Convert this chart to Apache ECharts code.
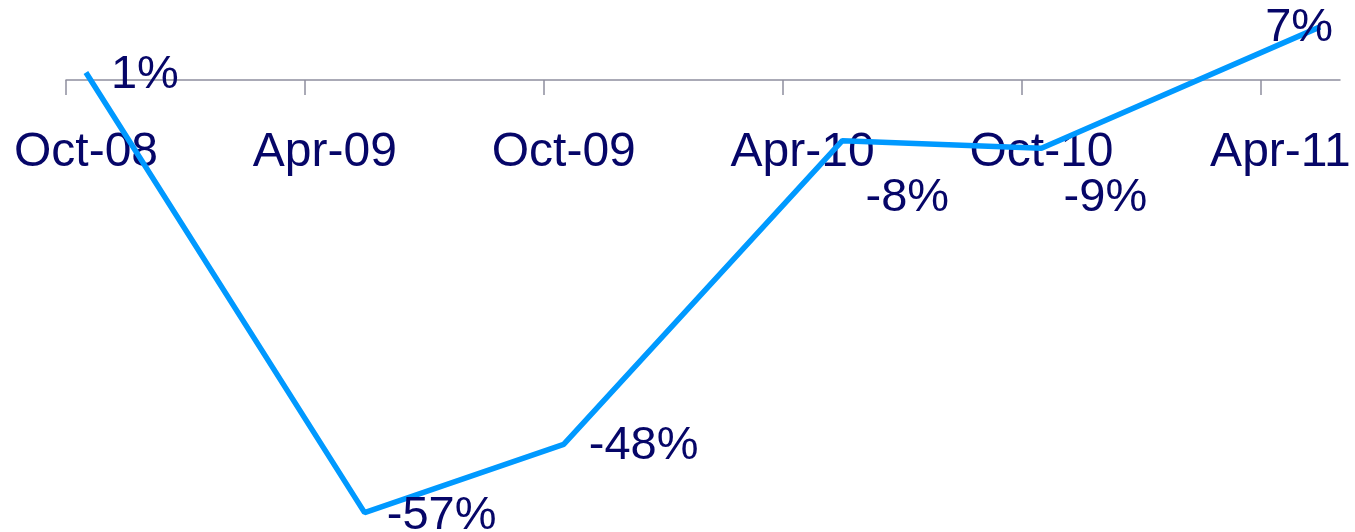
<!DOCTYPE html>
<html>
<head>
<meta charset="utf-8">
<script src="https://cdn.jsdelivr.net/npm/echarts@6/dist/echarts.min.js"></script>
<style>
  html, body { margin: 0; padding: 0; background: #fff; }
  #chart { width: 1355px; height: 532px; }
</style>
</head>
<body>
<div id="chart"></div>
<script>
// axis ticks every 6 months, counted from Oct-08
const tickLabels = ['Oct-08', 'Apr-09', 'Oct-09', 'Apr-10', 'Oct-10', 'Apr-11'];
const tickMonths = [0, 6, 12, 18, 24, 30];

// observation dates (months since Oct-08) and % change
const pointMonths = [0.5, 7.5, 12.5, 19.5, 24.5, 31.5];
const changeValues = [1, -57, -48, -8, -9, 7];

// where each value label sits relative to its point
const labelOffsets = [[59, 3], [77, 3], [80, 2], [65, 57], [64, 50], [-21, 1]];

const navy = '#060668';
const font = '"Liberation Sans", Arial, sans-serif';

const chart = echarts.init(document.getElementById('chart'));

const seriesData = pointMonths.map((m, i) => ({
  value: [m, changeValues[i]],
  label: { offset: labelOffsets[i] }
}));

// grid spans y 19.3 .. 520.2, zero sits at y = 80
const gridTop = 19.3;
const gridBottom = 11.8;
const zeroY = 80;

const option = {
  animation: false,
  grid: { left: 66, right: 15, top: gridTop, bottom: gridBottom, outerBoundsMode: 'none', containLabel: false },
  xAxis: {
    type: 'value',
    position: 'bottom',
    offset: -(532 - gridBottom - zeroY),
    min: 0,
    max: 32,
    interval: 6,
    splitLine: { show: false },
    axisLine: { onZero: false, lineStyle: { color: '#8e8e9e', width: 1.5 } },
    axisTick: {
      show: true,
      length: 15,
      customValues: tickMonths,
      lineStyle: { color: '#8e8e9e', width: 1.5 }
    },
    axisLabel: {
      customValues: tickMonths,
      margin: 49,
      color: navy,
      fontFamily: font,
      fontSize: 48,
      padding: [0, 0, 0, 40],
      formatter: (v) => tickLabels[tickMonths.indexOf(v)] || ''
    }
  },
  yAxis: {
    type: 'value',
    min: -58,
    max: 8,
    show: false,
    splitLine: { show: false }
  },
  series: [{
    type: 'line',
    data: seriesData,
    showSymbol: true,
    symbol: 'circle',
    symbolSize: 0,
    clip: false,
    lineStyle: { color: '#0099ff', width: 5.5 },
    itemStyle: { color: '#0099ff' },
    label: {
      show: true,
      position: 'inside',
      color: navy,
      fontFamily: font,
      fontSize: 47,
      formatter: (p) => p.value[1] + '%'
    },
    z: 3
  }]
};

chart.setOption(option);
</script>
</body>
</html>
